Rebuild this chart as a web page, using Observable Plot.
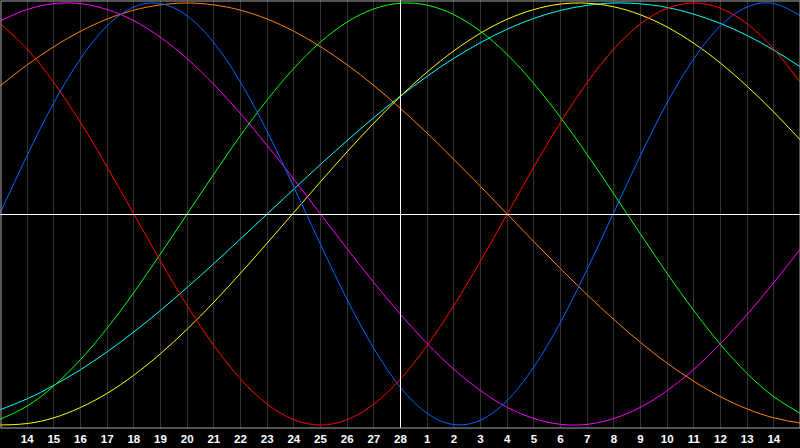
<!DOCTYPE html>
<html><head>
<meta charset="utf-8">
<script src="https://cdn.jsdelivr.net/npm/d3@7"></script>
<script src="https://cdn.jsdelivr.net/npm/@observablehq/plot@0.6"></script>
<style>
html,body{margin:0;padding:0;background:#000;}
#chart svg{display:block;}
</style>
</head><body><div id="chart"></div>
<script>
// Day labels on the grid lines (positions 1..29)
const dayLabels = ["14","15","16","17","18","19","20","21","22","23","24","25","26","27","28",
                   "1","2","3","4","5","6","7","8","9","10","11","12","13","14"];
const todayIndex = 15; // "28"

// Curve values (percent), sampled at positions 0..30
const red     = [90.1,78.2,62.3,43.4,22.3,0.0,-22.3,-43.4,-62.3,-78.2,-90.1,-97.5,-100.0,-97.5,-90.1,-78.2,-62.3,-43.4,-22.3,0.0,22.3,43.4,62.3,78.2,90.1,97.5,100.0,97.5,90.1,78.2,62.3];
const blue    = [0.8,27.8,52.7,73.6,89.2,98.1,99.7,93.9,81.2,62.5,39.1,12.8,-14.4,-40.6,-63.7,-82.2,-94.5,-99.8,-97.7,-88.4,-72.5,-51.3,-26.2,0.8,27.8,52.7,73.6,89.2,98.1,99.7,93.9];
const green   = [-97.2,-91.0,-81.5,-69.0,-54.1,-37.2,-18.9,0.0,18.9,37.2,54.1,69.0,81.5,91.0,97.2,99.9,99.0,94.5,86.6,75.6,61.8,45.8,28.2,9.5,-9.5,-28.2,-45.8,-61.8,-75.6,-86.6,-94.5];
const orange  = [60.9,70.7,79.3,86.6,92.4,96.6,99.1,100.0,99.1,96.6,92.4,86.6,79.3,70.7,60.9,50.0,38.3,25.9,13.1,0.0,-13.1,-25.9,-38.3,-50.0,-60.9,-70.7,-79.3,-86.6,-92.4,-96.6,-99.1];
const magenta = [91.6,96.9,99.7,99.7,96.9,91.6,83.7,73.6,61.4,47.6,32.5,16.5,0.0,-16.5,-32.5,-47.6,-61.4,-73.6,-83.7,-91.6,-96.9,-99.7,-99.7,-96.9,-91.6,-83.7,-73.6,-61.4,-47.6,-32.5,-16.5];
const cyan    = [-92.7,-87.6,-81.2,-73.8,-65.3,-55.9,-45.7,-34.8,-23.5,-11.8,0.0,11.8,23.5,34.8,45.7,55.9,65.3,73.8,81.2,87.6,92.7,96.5,98.9,100.0,99.6,97.9,94.7,90.3,84.6,77.7,69.7];
const yellow  = [-100.0,-99.3,-96.6,-91.7,-85.0,-76.4,-66.2,-54.6,-41.8,-28.1,-13.8,0.7,15.3,29.5,43.1,55.8,67.3,77.3,85.7,92.3,96.9,99.5,99.9,98.2,94.4,88.6,80.9,71.5,60.5,48.3,35.0];

const series = [
  {name:"cyan", values:cyan, color:"#00ffff"},
  {name:"yellow", values:yellow, color:"#ffff00"},
  {name:"orange", values:orange, color:"#ff8000"},
  {name:"magenta", values:magenta, color:"#ff00ff"},
  {name:"green", values:green, color:"#00ff00"},
  {name:"blue", values:blue, color:"#0066ff"},
  {name:"red", values:red, color:"#ff0000"}
];

const rows = series.flatMap(s => s.values.map((v, i) => ({name: s.name, x: i, v, color: s.color})));
const ticks = dayLabels.map((label, i) => ({x: i + 1, label}));

const chart = Plot.plot({
  width: 800,
  height: 448,
  marginTop: 0, marginLeft: 0, marginRight: 0, marginBottom: 20,
  style: {background: "#000", overflow: "visible"},
  x: {domain: [0, 30], axis: null},
  y: {domain: [-100, 100], range: [424.5, 2.5], axis: null},
  color: {type: "identity"},
  marks: [
    Plot.ruleX(ticks.filter(d => d.x !== todayIndex), {x: "x", stroke: "#333333", strokeWidth: 1, shapeRendering: "crispEdges"}),
    Plot.line(rows, {x: "x", y: "v", z: "name", stroke: "color", strokeWidth: 1, curve: "natural"}),
    Plot.ruleY([0], {stroke: "#ffffff", strokeWidth: 1, shapeRendering: "crispEdges"}),
    Plot.ruleX([todayIndex], {stroke: "#ffffff", strokeWidth: 1, shapeRendering: "crispEdges"}),
    Plot.frame({stroke: "#a8a8a8", inset: 0.5}),
    Plot.text(ticks, {x: "x", y: () => -106.9, text: "label", fill: "#ffffff",
      fontFamily: "Liberation Sans, Arial, sans-serif", fontWeight: "bold", fontSize: 11.5, textAnchor: "middle"})
  ]
});
document.getElementById("chart").appendChild(chart);
</script></body></html>
